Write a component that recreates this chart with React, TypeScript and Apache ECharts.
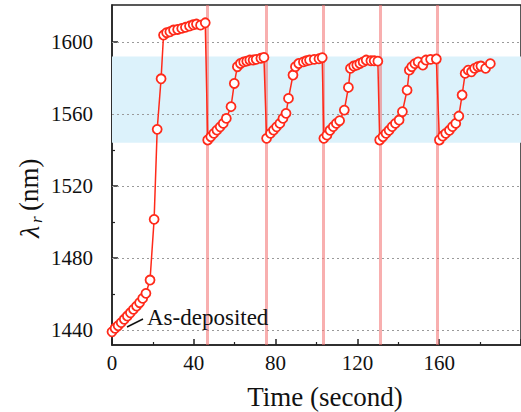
import React, { useEffect, useRef } from "react";
import * as echarts from "echarts";

// Cycle 0: as-deposited film, then switching cycles (time in s, resonance wavelength in nm)
const seg1Time = [0, 1.5, 3.0, 4.5, 6.0, 7.5, 9.0, 10.5, 12.0, 13.5, 15.0, 16.6, 18.6, 20.6, 22.1, 24.0, 25.2, 26.7, 28.3, 30.1, 32.1, 34.1, 35.9, 37.9, 39.7, 41.3, 43.3, 45.6];
const seg1Lambda = [1439, 1441, 1442.4, 1444.1, 1446, 1447.8, 1449.6, 1451.5, 1453.3, 1455.2, 1457.6, 1460.4, 1467.8, 1501.5, 1551.5, 1579.6, 1603.9, 1605.2, 1605.7, 1606.7, 1607, 1607.6, 1608.2, 1608.9, 1609.6, 1610, 1609.4, 1610.7];

const seg2Time = [46.8, 48.3, 49.8, 51.3, 52.9, 54.4, 55.9, 58.2, 59.8, 61.3, 62.8, 64.4, 65.9, 67.4, 69.0, 70.5, 72.8, 74.3];
const seg2Lambda = [1545.6, 1547.4, 1549.3, 1551.1, 1552.9, 1554.8, 1557.6, 1564.1, 1577, 1586.3, 1588.1, 1589, 1589.4, 1590, 1590, 1590.4, 1591, 1591.5];

const seg3Time = [75.6, 77.5, 79.0, 80.5, 82.1, 83.6, 85.1, 86.3, 88.5, 89.7, 91.3, 93.6, 95.1, 96.6, 98.9, 101.2, 102.8];
const seg3Lambda = [1546.5, 1549.3, 1551.1, 1552.9, 1554.8, 1557.6, 1560.4, 1568.7, 1581.7, 1586.3, 1588.1, 1589, 1589.6, 1590, 1590.4, 1590.7, 1591.3];

const seg4Time = [103.6, 105.1, 106.6, 108.2, 109.7, 111.3, 113.6, 115.6, 116.6, 118.2, 119.7, 121.2, 122.8, 124.3, 126.6, 128.2, 130.0];
const seg4Lambda = [1546.5, 1548.3, 1551, 1553, 1554.8, 1556.3, 1562.2, 1574.8, 1585.4, 1586.7, 1587.2, 1588.1, 1589, 1590, 1589.6, 1589.6, 1589.4];

const seg5Time = [130.9, 132.5, 134.0, 135.5, 137.0, 138.6, 140.4, 142.0, 144.3, 145.4, 146.6, 148.1, 149.7, 152.0, 153.5, 155.8, 158.6];
const seg5Lambda = [1545.6, 1547.4, 1549.3, 1551, 1553, 1554.8, 1556.7, 1561.3, 1573.3, 1584.4, 1586.3, 1588, 1589, 1587.2, 1590, 1590.4, 1590.6];

const seg6Time = [160.1, 161.7, 163.2, 165.0, 166.5, 168.1, 169.6, 171.2, 172.7, 174.2, 175.8, 177.3, 178.9, 180.4, 182.7, 185.0];
const seg6Lambda = [1545.6, 1547.8, 1549.3, 1551, 1553, 1554.8, 1558.9, 1570.6, 1582.6, 1584.4, 1583.5, 1585.4, 1586.3, 1586.7, 1585.4, 1588];

const switchTimes = [46.7, 75.3, 103.2, 131.2, 159.2];
const yTickValues = [1440, 1480, 1520, 1560, 1600];
const yMinorTickValues = [1460, 1500, 1540, 1580];
const bandLow = 1544;
const bandHigh = 1592;
const annotationText = "As-deposited";
const xTitle = "Time (second)";

const FONT = "Times New Roman";
const RED = "#ff2a1a";

export default function App() {
  const ref = useRef<HTMLDivElement>(null);

  useEffect(() => {
    if (!ref.current) return;
    const chart = echarts.init(ref.current, null, { renderer: "svg" });

    const times = [...seg1Time, ...seg2Time, ...seg3Time, ...seg4Time, ...seg5Time, ...seg6Time];
    const lambdas = [...seg1Lambda, ...seg2Lambda, ...seg3Lambda, ...seg4Lambda, ...seg5Lambda, ...seg6Lambda];
    const data = times.map((t, i) => [t, lambdas[i]]);

    const yMin = 1431.7;
    const yMax = 1620.6;

    chart.setOption({
      animation: false,
      grid: {
        left: 112,
        top: 5,
        right: -25,
        bottom: 67,
        show: true,
        borderColor: "#222",
        borderWidth: 1.5,
        backgroundColor: "transparent",
      },
      xAxis: {
        type: "value",
        min: 0,
        max: 200,
        interval: 40,
        axisLine: { lineStyle: { color: "#222", width: 1.5 } },
        axisTick: { inside: true, length: 6, lineStyle: { color: "#222", width: 1.5 } },
        minorTick: { show: true, splitNumber: 2, length: 3, lineStyle: { color: "#222", width: 1.2 } },
        splitLine: { show: false },
        minorSplitLine: { show: false },
        axisLabel: { fontFamily: FONT, fontSize: 21, color: "#111", margin: 7, showMaxLabel: false, formatter: (v: number) => String(v) },
      },
      yAxis: [
        {
          type: "value",
          min: yMin,
          max: yMax,
          axisLine: { show: true, lineStyle: { color: "#222", width: 1.5 } },
          axisTick: { show: true, inside: true, length: 6, customValues: yTickValues, lineStyle: { color: "#222", width: 1.5 } },
          axisLabel: { customValues: yTickValues, fontFamily: FONT, fontSize: 21, color: "#111", margin: 19, formatter: (v: number) => String(v) },
          splitLine: { show: false },
        },
        {
          type: "value",
          min: yMin,
          max: yMax,
          position: "left",
          axisLine: { show: false },
          axisTick: { show: true, inside: true, length: 3, customValues: yMinorTickValues, lineStyle: { color: "#222", width: 1.2 } },
          axisLabel: { show: false },
          splitLine: { show: false },
        },
      ],
      graphic: [
        {
          type: "text",
          x: 325,
          y: 383,
          style: { text: xTitle, fontFamily: FONT, fontSize: 27, fill: "#111", textAlign: "center" },
        },
        {
          type: "group",
          x: 15,
          y: 238,
          rotation: Math.PI / 2,
          children: [
            { type: "text", x: 0, y: 0, style: { text: "λ", fontFamily: FONT, fontStyle: "italic", fontSize: 28, fill: "#111" } },
            { type: "text", x: 15, y: 13, style: { text: "r", fontFamily: FONT, fontStyle: "italic", fontSize: 17, fill: "#111" } },
            { type: "text", x: 27, y: 0, style: { text: "(nm)", fontFamily: FONT, fontSize: 27, fill: "#111" } },
          ],
        },
        {
          type: "text",
          x: 147,
          y: 306,
          z: 20,
          style: { text: annotationText, fontFamily: FONT, fontSize: 23, fill: "#111" },
        },
        {
          type: "line",
          z: 20,
          shape: { x1: 127, y1: 327, x2: 143, y2: 319 },
          style: { stroke: "#111", lineWidth: 1.5 },
        },
      ],
      series: [
        {
          type: "line",
          z: 1,
          data: [[0, 1500]],
          showSymbol: false,
          lineStyle: { opacity: 0 },
          silent: true,
          markArea: {
            silent: true,
            itemStyle: { color: "#dcf2fb" },
            data: [[{ xAxis: 0, yAxis: bandLow }, { xAxis: 200, yAxis: bandHigh }]],
          },
          markLine: {
            silent: true,
            symbol: ["none", "none"],
            label: { show: false },
            data: [
              ...yTickValues.map((v) => ({
                yAxis: v,
                lineStyle: { color: "#9a9a9a", type: [2, 3], width: 1 },
              })),
              ...switchTimes.map((t) => ({
                xAxis: t,
                lineStyle: { color: "rgba(242,110,110,0.55)", type: "solid", width: 3 },
              })),
            ],
          },
        },
        {
          type: "line",
          z: 10,
          data,
          symbol: "circle",
          symbolSize: 9,
          itemStyle: { color: "#ffffff", borderColor: RED, borderWidth: 1.8 },
          lineStyle: { color: RED, width: 1.5 },
        },
      ],
    });

    return () => chart.dispose();
  }, []);

  return <div ref={ref} style={{ position: "absolute", left: 0, top: 0, width: 521, height: 412 }} />;
}
